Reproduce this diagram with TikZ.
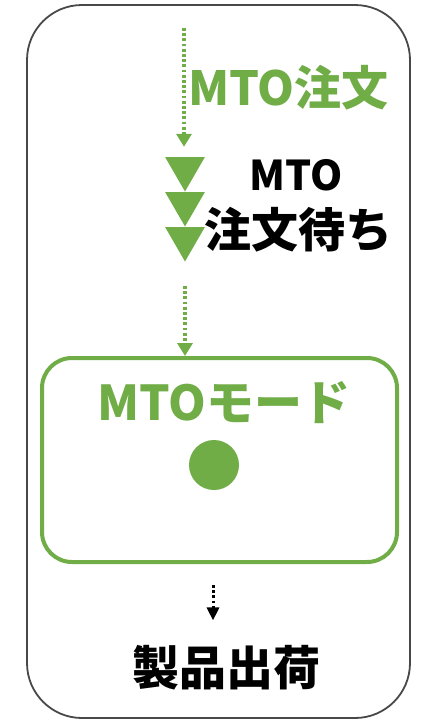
\documentclass[tikz,border=0pt]{standalone}
\usepackage{fontspec}
\setmainfont{Noto Sans CJK JP}
\usetikzlibrary{arrows.meta,shapes.geometric}
\definecolor{mgreen}{HTML}{70AD47}
\definecolor{frameg}{HTML}{484848}
\tikzset{
  lbl/.style={inner sep=0pt, font=\fontsize{#1}{#1}\selectfont\bfseries},
  dotarrow/.style={line width=3.4pt, dash pattern=on 2.8pt off 2.4pt, -{Triangle[width=15pt,length=13pt]}},
  tri/.style={regular polygon, regular polygon sides=3, shape border rotate=180, fill=mgreen, inner sep=0pt, minimum size=46pt}
}
\begin{document}
\begin{tikzpicture}[x=1pt,y=-1pt]
\path[use as bounding box] (0,0) rectangle (423,721);
\node[draw=frameg, line width=1.8pt, rounded corners=55pt, minimum width=383pt, minimum height=713pt, inner sep=0pt] (frame) at (218.5,361.5) {};
\coordinate (s1) at (184,28);
\node[lbl=47, text=mgreen, anchor=west] (order) at (188,88) {MTO注文};
\node[tri] (t1) at (185,168.5) {};
\node[tri] (t2) at (185,203.5) {};
\node[tri] (t3) at (185,238.5) {};
\node[lbl=41] (mto) at (296,175) {MTO};
\node[lbl=47] (wait) at (298,230) {注文待ち};
\node[draw=mgreen, line width=4pt, rounded corners=30pt, minimum width=355pt, minimum height=204pt, inner sep=0pt] (mode) at (219.5,460) {};
\node[lbl=48, text=mgreen] (modet) at (224,403) {MTOモード};
\node[circle, fill=mgreen, minimum size=50pt, inner sep=0pt] (dot) at (214,465) {};
\node[lbl=47] (ship) at (226,668) {製品出荷};
\draw[dotarrow, mgreen, shorten >=10pt] (s1) -- (s1 |- t1.north);
\draw[dotarrow, mgreen, shorten <=24pt] (t3.south) -- (t3.south |- mode.north);
\draw[dotarrow, black, line width=3pt, -{Triangle[width=12pt,length=13pt]}, shorten <=21pt, shorten >=25pt] (213,0 |- mode.south) -- (213,0 |- ship.north);
\end{tikzpicture}
\end{document}
